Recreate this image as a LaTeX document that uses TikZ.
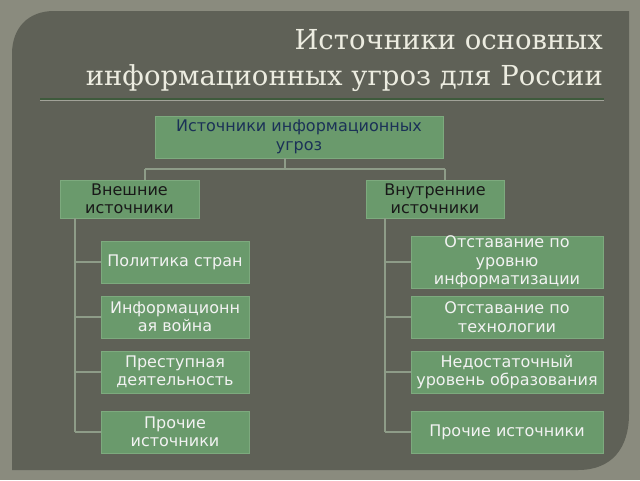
\documentclass[tikz,border=0pt]{standalone}
\usepackage{fontspec}
\setmainfont{DejaVu Sans}
\newfontfamily\titlefont{DejaVu Serif}
\definecolor{outerbg}{HTML}{8A8B7E}
\definecolor{panelbg}{HTML}{5F6157}
\definecolor{boxfill}{HTML}{6A9A6C}
\definecolor{boxline}{HTML}{7DAA7E}
\definecolor{conn}{HTML}{8E9C88}
\definecolor{titletxt}{HTML}{ECECE0}
\definecolor{navy}{HTML}{1B3157}
\definecolor{rulegreen}{HTML}{3E5A3C}
\begin{document}
\begin{tikzpicture}[x=1pt,y=-1pt,
  gbox/.style={draw=boxline,line width=0.8pt,fill=boxfill,inner sep=0pt,align=center,font=\fontsize{16}{18.5}\selectfont},
  top/.style={gbox,text=navy},
  mid/.style={gbox,text=black!90},
  leaf/.style={gbox,text=white!95!black},
  link/.style={draw=conn,line width=1.2pt},
  ttl/.style={anchor=base east,text=titletxt,font=\titlefont\fontsize{27.5}{31}\selectfont,inner sep=0pt}]
\useasboundingbox (0,0) rectangle (640,480);
\fill[outerbg] (0,0) rectangle (640,480);
\fill[panelbg] (12,470) -- (12,54) .. controls (12,28) and (28,11) .. (54,11) -- (629,11) -- (629,414) .. controls (629,448) and (612,470) .. (578,470) -- cycle;
% title
\node[ttl] (t1) at (603,49) {Источники основных};
\node[ttl] (t2) at (603,85) {информационных угроз для России};
\coordinate (ul1) at (40,99);
\coordinate (ul2) at (604,99);
\draw[rulegreen,line width=1.6pt] (ul1) -- (ul2);
\draw[outerbg!80!white,line width=0.6pt] ([yshift=-1.6pt]ul1) -- ([yshift=-1.6pt]ul2);
% boxes
\node[top,minimum width=288pt,minimum height=42pt] (root) at (299,137) {Источники информационных\\угроз};
\node[mid,minimum width=139pt,minimum height=38pt] (ext) at (129.5,199) {Внешние\\источники};
\node[mid,minimum width=138pt,minimum height=38pt] (int) at (435,199) {Внутренние\\источники};
\node[leaf,minimum width=148pt,minimum height=42pt] (l1) at (175,262) {Политика стран};
\node[leaf,minimum width=148pt,minimum height=42pt] (l2) at (175,317) {Информационн\\ая война};
\node[leaf,minimum width=148pt,minimum height=42pt] (l3) at (175,372) {Преступная\\деятельность};
\node[leaf,minimum width=148pt,minimum height=42pt] (l4) at (175,432) {Прочие\\источники};
\node[leaf,minimum width=192pt,minimum height=42pt] (r1) at (507,262) {Отставание по\\уровню\\информатизации};
\node[leaf,minimum width=192pt,minimum height=42pt] (r2) at (507,317) {Отставание по\\технологии};
\node[leaf,minimum width=192pt,minimum height=42pt] (r3) at (507,372) {Недостаточный\\уровень образования};
\node[leaf,minimum width=192pt,minimum height=42pt] (r4) at (507,432) {Прочие источники};
% connectors
\coordinate (j0) at (285,169);
\coordinate (jl) at (145,169);
\coordinate (jr) at (445,169);
\draw[link] (root.south -| j0) -- (j0);
\draw[link] (jl) -- (jr);
\draw[link] (jl) -- (jl |- ext.north);
\draw[link] (jr) -- (jr |- int.north);
\coordinate (lv) at (75,218);
\coordinate (rv) at (385,218);
\draw[link] (lv) -- (lv |- l4.west);
\draw[link] (rv) -- (rv |- r4.west);
\foreach \n in {l1,l2,l3,l4} \draw[link] (lv |- \n.west) -- (\n.west);
\foreach \n in {r1,r2,r3,r4} \draw[link] (rv |- \n.west) -- (\n.west);
\end{tikzpicture}
\end{document}
